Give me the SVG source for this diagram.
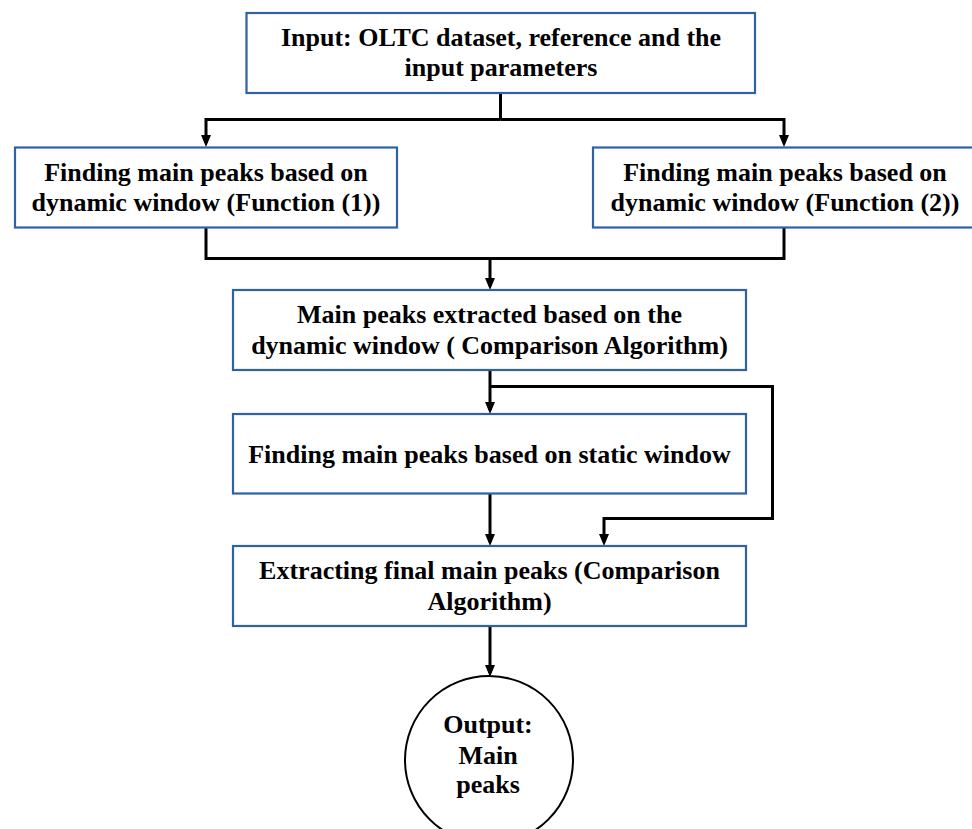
<svg xmlns="http://www.w3.org/2000/svg" width="972" height="829" viewBox="0 0 972 829">
  <style>
    .box { fill: #ffffff; stroke: #2e62a3; stroke-width: 2.2; }
    .circ { fill: #ffffff; stroke: #000000; stroke-width: 2; }
    .t { font-family: "Liberation Serif", "Times New Roman", serif; font-weight: bold; font-size: 26px; fill: #000000; text-anchor: middle; }
    .c { fill: none; stroke: #000000; stroke-width: 3; stroke-linejoin: miter; }
  </style>
  <defs>
    <marker id="arr" viewBox="0 0 12 10" refX="8" refY="5" markerWidth="12" markerHeight="10" markerUnits="userSpaceOnUse" orient="auto">
      <path d="M0,0 L12,5 L0,10 z" fill="#000000"/>
    </marker>
  </defs>
  <rect width="972" height="829" fill="#ffffff"/>

  <g id="connectors">
    <path class="c" d="M500.5,93 V119.5"/>
    <path class="c" d="M500.5,119.5 H206 V143" marker-end="url(#arr)"/>
    <path class="c" d="M500.5,119.5 H784 V143" marker-end="url(#arr)"/>
    <path class="c" d="M784,227 V258.5 H490"/>
    <path class="c" d="M206,227 V258.5 H490 V286" marker-end="url(#arr)"/>
    <path class="c" d="M490,370 V410" marker-end="url(#arr)"/>
    <path class="c" d="M490,386.5 H772.5 V518.5 H604 V542" marker-end="url(#arr)"/>
    <path class="c" d="M490,494 V542" marker-end="url(#arr)"/>
    <path class="c" d="M490,626 V673" marker-end="url(#arr)"/>
  </g>

  <g id="input">
    <rect class="box" x="246.5" y="13" width="508.5" height="80"/>
    <text class="t" x="501" y="46">Input: OLTC dataset, reference and the</text>
    <text class="t" x="501" y="76">input parameters</text>
  </g>

  <g id="func1">
    <rect class="box" x="15" y="147.5" width="382" height="80"/>
    <text class="t" x="206" y="181">Finding main peaks based on</text>
    <text class="t" x="206" y="211">dynamic window (Function (1))</text>
  </g>

  <g id="func2">
    <rect class="box" x="593" y="147.5" width="383" height="80"/>
    <text class="t" x="785" y="181">Finding main peaks based on</text>
    <text class="t" x="785" y="211">dynamic window (Function (2))</text>
  </g>

  <g id="dynamic">
    <rect class="box" x="233" y="290" width="513" height="80"/>
    <text class="t" x="489.5" y="323">Main peaks extracted based on the</text>
    <text class="t" x="489.5" y="354">dynamic window ( Comparison Algorithm)</text>
  </g>

  <g id="static">
    <rect class="box" x="233" y="414" width="513" height="79.5"/>
    <text class="t" x="489.5" y="463">Finding main peaks based on static window</text>
  </g>

  <g id="final">
    <rect class="box" x="233" y="546" width="513" height="80"/>
    <text class="t" x="489.5" y="579">Extracting final main peaks (Comparison</text>
    <text class="t" x="489.5" y="610">Algorithm)</text>
  </g>

  <g id="output">
    <circle class="circ" cx="489" cy="760" r="84"/>
    <text class="t" x="488" y="733">Output:</text>
    <text class="t" x="488" y="764">Main</text>
    <text class="t" x="488" y="793">peaks</text>
  </g>
</svg>
